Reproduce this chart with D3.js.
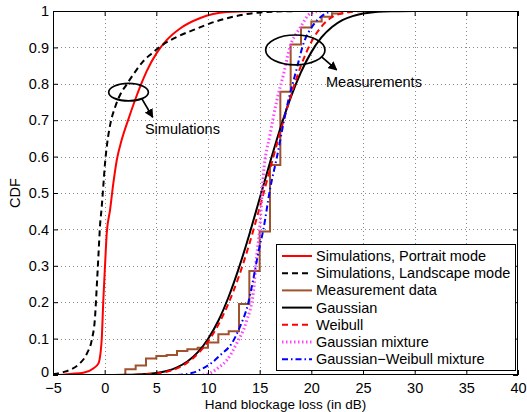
<!DOCTYPE html>
<html>
<head>
<meta charset="utf-8">
<script src="https://cdn.jsdelivr.net/npm/d3@7"></script>
<style>
  body { margin: 0; background: #fff; }
  svg { font-family: "Liberation Sans", Arial, Helvetica, sans-serif; }
</style>
</head>
<body>
<svg width="527" height="412"></svg>
<script>
// tick labels
const xTicks = [-5, 0, 5, 10, 15, 20, 25, 30, 35, 40];
const xTickLabels = ["\u22125", "0", "5", "10", "15", "20", "25", "30", "35", "40"];
const yTicks = [0, 0.1, 0.2, 0.3, 0.4, 0.5, 0.6, 0.7, 0.8, 0.9, 1];
const yTickLabels = ["0", "0.1", "0.2", "0.3", "0.4", "0.5", "0.6", "0.7", "0.8", "0.9", "1"];

// simulations, portrait mode (x in dB, cdf)
const simPortraitX = [-5, -4, -3.35, -2.07, -1.1, -0.6, -0.29, -0.13, 0.03, 0.2, 0.52, 0.84, 1.17, 1.65, 2.3, 2.9, 3.5, 4.07, 5.04, 6.0, 7.3, 9.2, 11.8, 15];
const simPortraitY = [0, 0.001, 0.003, 0.006, 0.018, 0.032, 0.096, 0.206, 0.298, 0.389, 0.453, 0.527, 0.59, 0.646, 0.703, 0.752, 0.797, 0.835, 0.885, 0.92, 0.952, 0.98, 0.997, 1];

// simulations, landscape mode
const simLandX = [-5, -4, -3.3, -2.4, -1.7, -1.25, -0.93, -0.77, -0.6, -0.45, -0.29, -0.13, 0.03, 0.26, 0.55, 1.0, 1.5, 2.1, 3.0, 3.7, 4.5, 5.4, 7.0, 8.6, 10.2, 12.4, 15, 18, 20];
const simLandY = [0.002, 0.008, 0.015, 0.032, 0.06, 0.096, 0.16, 0.24, 0.33, 0.41, 0.46, 0.52, 0.58, 0.64, 0.69, 0.735, 0.77, 0.797, 0.835, 0.861, 0.882, 0.903, 0.929, 0.948, 0.966, 0.984, 0.996, 0.9995, 1];

// measurement data (empirical cdf, steps)
const measX = [0, 2, 3, 4, 5, 6, 7, 8, 9, 10, 11, 12, 13, 14, 15, 16, 17, 18, 19, 20, 21, 22, 23];
const measY = [0, 0.016, 0.026, 0.045, 0.052, 0.055, 0.066, 0.071, 0.075, 0.089, 0.112, 0.12, 0.195, 0.286, 0.394, 0.577, 0.778, 0.908, 0.955, 0.971, 0.984, 0.993, 1];

// gaussian fit
const gaussX = [0, 2, 4, 5, 6, 7, 8, 9, 10, 11, 12, 13, 14, 15, 16, 17, 18, 19, 20, 21, 22, 23, 24, 25, 26, 27, 28, 30];
const gaussY = [0.0001, 0.0005, 0.0026, 0.0055, 0.011, 0.021, 0.037, 0.062, 0.099, 0.149, 0.215, 0.295, 0.386, 0.485, 0.584, 0.678, 0.762, 0.832, 0.887, 0.928, 0.956, 0.975, 0.986, 0.993, 0.9966, 0.9985, 0.9993, 1];

// weibull fit
const weibX = [3, 4, 5, 6, 7, 8, 9, 10, 11, 12, 13, 14, 15, 16, 17, 18, 19, 20, 21, 22, 23, 24, 25];
const weibY = [0.0005, 0.002, 0.004, 0.009, 0.018, 0.034, 0.058, 0.092, 0.138, 0.198, 0.272, 0.36, 0.46, 0.565, 0.668, 0.765, 0.85, 0.915, 0.958, 0.983, 0.994, 0.998, 1];

// gaussian mixture
const gmixX = [9.5, 10.2, 11, 11.8, 12.8, 13.75, 14.4, 14.7, 15.0, 15.36, 16.0, 16.65, 17.3, 17.9, 18.9, 20.0, 21];
const gmixY = [0, 0.005, 0.02, 0.04, 0.088, 0.15, 0.23, 0.325, 0.40, 0.55, 0.66, 0.753, 0.825, 0.898, 0.953, 0.995, 1];

// gaussian-weibull mixture
const gwmixX = [7, 8.5, 9.2, 10.2, 11.2, 12.3, 13.1, 13.9, 14.36, 14.9, 15.36, 16.0, 16.65, 17.6, 18.6, 19.2, 20.2, 21.2, 22.2];
const gwmixY = [0, 0.006, 0.014, 0.03, 0.055, 0.087, 0.133, 0.198, 0.26, 0.34, 0.40, 0.51, 0.596, 0.733, 0.843, 0.907, 0.962, 0.99, 1];

const legendNames = ["Simulations, Portrait mode", "Simulations, Landscape mode", "Measurement data",
  "Gaussian", "Weibull", "Gaussian mixture", "Gaussian\u2212Weibull mixture"];

const svg = d3.select("svg");
const m = { left: 53, right: 518, top: 11, bottom: 375 };
const x = d3.scaleLinear().domain([-5, 40]).range([m.left, m.right]);
const y = d3.scaleLinear().domain([0, 1]).range([m.bottom, m.top]);

svg.append("rect").attr("width", 527).attr("height", 412).attr("fill", "#fff");

svg.append("clipPath").attr("id", "clip")
  .append("rect").attr("x", m.left).attr("y", m.top).attr("width", m.right - m.left).attr("height", m.bottom - m.top);

// grid
const grid = svg.append("g").attr("stroke", "#8a8a8a").attr("stroke-width", 1).attr("stroke-dasharray", "1,3");
grid.selectAll(".gx").data(xTicks.slice(1, -1)).join("line")
  .attr("x1", d => Math.round(x(d)) + 0.5).attr("x2", d => Math.round(x(d)) + 0.5)
  .attr("y1", m.top).attr("y2", m.bottom);
grid.selectAll(".gy").data(yTicks.slice(1, -1)).join("line")
  .attr("y1", d => Math.round(y(d)) + 0.5).attr("y2", d => Math.round(y(d)) + 0.5)
  .attr("x1", m.left).attr("x2", m.right);

// series
const series = [
  { xs: simPortraitX, ys: simPortraitY, color: "#ff0000", dash: null, w: 2 },
  { xs: simLandX, ys: simLandY, color: "#000000", dash: "6,4", w: 2 },
  { xs: measX, ys: measY, color: "#a0522d", dash: null, w: 2, step: true },
  { xs: gaussX, ys: gaussY, color: "#000000", dash: null, w: 2 },
  { xs: weibX, ys: weibY, color: "#ff0000", dash: "6,4", w: 2 },
  { xs: gmixX, ys: gmixY, color: "#ff44ff", dash: "1.5,2.5", w: 3 },
  { xs: gwmixX, ys: gwmixY, color: "#0000ff", dash: "6,3,1.5,3", w: 2 }
];

const plot = svg.append("g").attr("clip-path", "url(#clip)");
series.forEach(s => {
  const line = d3.line()
    .x(d => x(d[0])).y(d => y(d[1]))
    .curve(s.step ? d3.curveStepAfter : d3.curveMonotoneX);
  plot.append("path")
    .datum(s.xs.map((v, i) => [v, s.ys[i]]))
    .attr("d", line)
    .attr("fill", "none")
    .attr("stroke", s.color)
    .attr("stroke-width", s.w)
    .attr("stroke-dasharray", s.dash);
});

// axes, ticks inward on all sides
const fs = 14.5;
const gBottom = svg.append("g").attr("transform", `translate(0,${m.bottom})`)
  .call(d3.axisBottom(x).tickValues(xTicks).tickFormat((d, i) => xTickLabels[i]).tickSizeInner(-5).tickSizeOuter(0).tickPadding(8));
const gLeft = svg.append("g").attr("transform", `translate(${m.left},0)`)
  .call(d3.axisLeft(y).tickValues(yTicks).tickFormat((d, i) => yTickLabels[i]).tickSizeInner(-5).tickSizeOuter(0).tickPadding(4));
const gTop = svg.append("g").attr("transform", `translate(0,${m.top})`)
  .call(d3.axisTop(x).tickValues(xTicks).tickFormat("").tickSizeInner(-5).tickSizeOuter(0));
const gRight = svg.append("g").attr("transform", `translate(${m.right},0)`)
  .call(d3.axisRight(y).tickValues(yTicks).tickFormat("").tickSizeInner(-5).tickSizeOuter(0));
[gBottom, gLeft, gTop, gRight].forEach(g => {
  g.select(".domain").remove();
  g.selectAll("line").attr("stroke", "#000");
  g.selectAll("text").attr("font-size", fs).attr("fill", "#000");
  g.attr("font-family", null).attr("font-size", null);
});
// keep the corner labels "0" and "−5" apart
gLeft.selectAll("text").filter(d => d === 0).attr("dy", "0.12em");

svg.append("rect").attr("x", m.left + 0.5).attr("y", m.top + 0.5)
  .attr("width", m.right - m.left - 1).attr("height", m.bottom - m.top - 1)
  .attr("fill", "none").attr("stroke", "#000").attr("stroke-width", 1);

// axis labels
svg.append("text").attr("x", (m.left + m.right) / 2).attr("y", 409)
  .attr("text-anchor", "middle").attr("font-size", 13.5).text("Hand blockage loss (in dB)");
svg.append("text").attr("transform", `translate(20,${(m.top + m.bottom) / 2}) rotate(-90)`)
  .attr("text-anchor", "middle").attr("font-size", fs).text("CDF");

// annotations
svg.append("defs").append("marker").attr("id", "arr")
  .attr("viewBox", "0 0 10 10").attr("refX", 9).attr("refY", 5)
  .attr("markerWidth", 9).attr("markerHeight", 9).attr("markerUnits", "userSpaceOnUse")
  .attr("orient", "auto")
  .append("path").attr("d", "M0,0 L10,5 L0,10 Z").attr("fill", "#000");

const notes = [
  { cx: 2.31, cy: 0.777, rx: 1.92, ry: 0.024, ax1: 3.58, ay1: 0.760, ax2: 4.65, ay2: 0.708, tx: 3.9, ty: 0.662, label: "Simulations" },
  { cx: 18.45, cy: 0.893, rx: 2.87, ry: 0.041, ax1: 21.0, ay1: 0.874, ax2: 22.45, ay2: 0.838, tx: 21.42, ty: 0.791, label: "Measurements" }
];
notes.forEach(n => {
  svg.append("ellipse")
    .attr("cx", x(n.cx)).attr("cy", y(n.cy))
    .attr("rx", x(n.cx + n.rx) - x(n.cx)).attr("ry", y(n.cy) - y(n.cy + n.ry))
    .attr("fill", "none").attr("stroke", "#000").attr("stroke-width", 1.7);
  svg.append("line")
    .attr("x1", x(n.ax1)).attr("y1", y(n.ay1)).attr("x2", x(n.ax2)).attr("y2", y(n.ay2))
    .attr("stroke", "#000").attr("stroke-width", 1.7).attr("marker-end", "url(#arr)");
  svg.append("text").attr("x", x(n.tx)).attr("y", y(n.ty)).attr("font-size", fs).text(n.label);
});

// legend
const lgW = 239, lgH = 126;
const lgX = m.right - 3 - lgW, lgY = m.bottom - 5 - lgH;
const lg = svg.append("g").attr("transform", `translate(${lgX},${lgY})`);
lg.append("rect").attr("x", 0.5).attr("y", 0.5).attr("width", lgW).attr("height", lgH)
  .attr("fill", "#fff").attr("stroke", "#000").attr("stroke-width", 1);
const rows = lg.selectAll(".row").data(series).join("g")
  .attr("transform", (d, i) => `translate(0,${12 + i * 17.2})`);
rows.append("line").attr("x1", 6).attr("x2", 36).attr("y1", 0).attr("y2", 0)
  .attr("stroke", d => d.color).attr("stroke-width", d => d.w).attr("stroke-dasharray", d => d.dash);
rows.append("text").attr("x", 40).attr("y", 0).attr("dy", "0.35em").attr("font-size", fs)
  .text((d, i) => legendNames[i]);
</script>
</body>
</html>
